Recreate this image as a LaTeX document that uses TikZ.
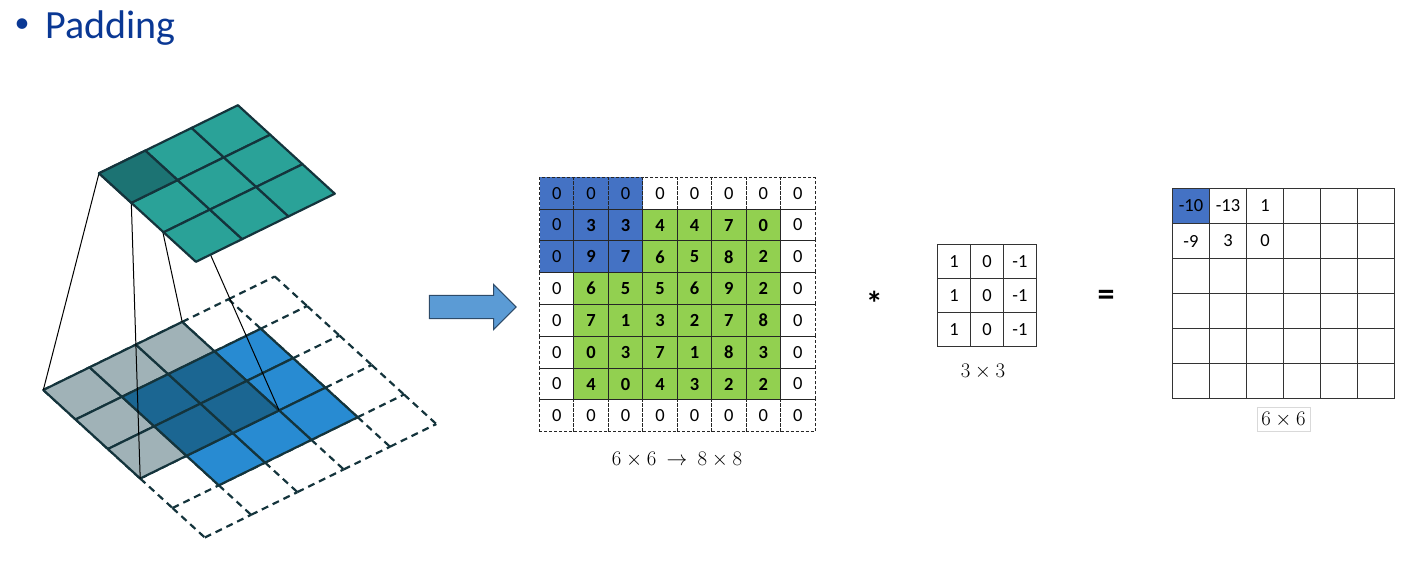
\documentclass[tikz,border=0pt]{standalone}
\usepackage{fontspec}
\setmainfont{Carlito}
\usetikzlibrary{shapes.arrows}

\definecolor{tituloazul}{RGB}{10,56,148}
\definecolor{azulpad}{RGB}{68,114,196}
\definecolor{verdepad}{RGB}{146,208,80}
\definecolor{tealc}{RGB}{42,162,152}
\definecolor{tealosc}{RGB}{28,115,115}
\definecolor{grisc}{RGB}{160,178,183}
\definecolor{azulc}{RGB}{40,139,210}
\definecolor{azulosc}{RGB}{27,102,146}
\definecolor{bordec}{RGB}{20,52,60}
\definecolor{flechaazul}{RGB}{91,155,213}
\definecolor{flechaborde}{RGB}{45,75,105}

\tikzset{
    celda/.style={draw=black!85, line width=0.9pt, minimum width=34.44pt, minimum height=31.8pt,
        inner sep=0pt, font=\fontsize{18.5}{19}\selectfont},
    celdapad/.style={celda, dash pattern=on 3pt off 2pt},
    celdadato/.style={celda, font=\fontsize{18.5}{19}\selectfont\bfseries},
    celdanuc/.style={draw=black!80, line width=1pt, minimum width=33pt, minimum height=34pt,
        inner sep=0pt, font=\fontsize{18.5}{19}\selectfont},
    celdasal/.style={draw=black!80, line width=1pt, minimum width=37pt, minimum height=35pt,
        inner sep=0pt, font=\fontsize{18.5}{19}\selectfont},
    etiqueta/.style={inner sep=0pt, font=\fontsize{20}{22}\selectfont},
    planoinf/.style={shift={(43.3,390)}, x={(46.3pt,22.7pt)}, y={(32.3pt,-29.5pt)}},
    planosup/.style={shift={(99,173.3)}, x={(46.3pt,22.7pt)}, y={(32.3pt,-29.5pt)}},
    cubo/.style={draw=bordec, line width=2.2pt, line join=round},
    discont/.style={cubo, dash pattern=on 7pt off 5pt},
    conector/.style={black, line width=1pt}
}

\begin{document}
\begin{tikzpicture}[x=1pt, y=-1pt]
    \useasboundingbox (0,0) rectangle (1413,566);

    % Titulo
    \node[text=tituloazul, font=\fontsize{30}{30}\selectfont, inner sep=0pt] (vineta) at (22,26) {•};
    \node[anchor=base west, text=tituloazul, font=\fontsize{40}{44}\selectfont, inner sep=0pt] (titulo) at (45,38.3) {Padding};

    % Plano inferior (entrada con padding)
    \begin{scope}[planoinf]
        \foreach \i in {0,...,4}
            \foreach \j in {0,...,5}
                \draw[discont] (\i,\j) -- ++(1,0);
        \foreach \i in {0,...,5}
            \foreach \j in {0,...,4}
                \draw[discont] (\i,\j) -- ++(0,1);
        \foreach \i/\j in {0/0,1/0,2/0,0/1,0/2}
            \draw[cubo, fill=grisc] (\i,\j) -- ++(1,0) -- ++(0,1) -- ++(-1,0) -- cycle;
        \foreach \i/\j in {3/1,3/2,3/3,1/3,2/3}
            \draw[cubo, fill=azulc] (\i,\j) -- ++(1,0) -- ++(0,1) -- ++(-1,0) -- cycle;
        \foreach \i/\j in {1/1,2/1,1/2,2/2}
            \draw[cubo, fill=azulosc] (\i,\j) -- ++(1,0) -- ++(0,1) -- ++(-1,0) -- cycle;
        \coordinate (b00) at (0,0);
        \coordinate (b30) at (3,0);
        \coordinate (b33) at (3,3);
        \coordinate (b03) at (0,3);
    \end{scope}

    % Plano superior (salida)
    \begin{scope}[planosup]
        \coordinate (t00) at (0,0);
        \coordinate (t10) at (1,0);
        \coordinate (t11) at (1,1);
        \coordinate (t01) at (0,1);
        % Lineas de proyeccion
        \draw[conector] (t00) -- (b00);
        \draw[conector] (t10) -- (b30);
        \draw[conector] (t11) -- (b33);
        \draw[conector] (t01) -- (b03);
        \foreach \i in {0,...,2}
            \foreach \j in {0,...,2}
                \draw[cubo, fill=tealc] (\i,\j) -- ++(1,0) -- ++(0,1) -- ++(-1,0) -- cycle;
        \draw[cubo, fill=tealosc] (0,0) -- (1,0) -- (1,1) -- (0,1) -- cycle;
    \end{scope}

    % Flecha
    \node[single arrow, draw=flechaborde, fill=flechaazul, line width=1pt,
        inner xsep=0pt, inner ysep=11.15pt, text height=0pt, text depth=0pt, text width=0pt,
        minimum height=86.7pt, single arrow head extend=11pt,
        single arrow tip angle=90] (flecha) at (467,307) {};

    % Matriz 8x8
    \fill[azulpad] (539.5,177.3) rectangle (642.8,272.7);
    \fill[verdepad] (573.9,209.1) rectangle (780.6,400.1);
    \fill[azulpad] (573.9,209.1) rectangle (642.8,272.7);
    \foreach \c in {0,...,7} {
        \node[celdapad] (p0\c) at ({556.7+34.44*\c},193.2) {0};
        \node[celdapad] (p7\c) at ({556.7+34.44*\c},415.8) {0};
    }
    \foreach \r in {1,...,6} {
        \node[celdapad] (p\r0) at (556.7,{193.2+31.8*\r}) {0};
        \node[celdapad] (p\r7) at (797.8,{193.2+31.8*\r}) {0};
    }
    \foreach \fila [count=\r] in {{3,3,4,4,7,0},{9,7,6,5,8,2},{6,5,5,6,9,2},{7,1,3,2,7,8},{0,3,7,1,8,3},{4,0,4,3,2,2}}
        \foreach \v [count=\c] in \fila
            \node[celdadato] (d\r\c) at ({556.7+34.44*\c},{193.2+31.8*\r}) {\v};
    \node[etiqueta] (dimpad) at (677,460) {$6\times 6\ \rightarrow\ 8\times 8$};

    % Operadores
    \node[inner sep=0pt, font=\fontsize{34}{34}\selectfont\bfseries] (prod) at (874.3,303) {*};
    \node[inner sep=0pt, font=\fontsize{34}{34}\selectfont\bfseries] (igual) at (1106,298.3) {=};

    % Nucleo 3x3
    \foreach \fila [count=\r] in {{1,0,-1},{1,0,-1},{1,0,-1}}
        \foreach \v [count=\c] in \fila
            \node[celdanuc] (k\r\c) at ({954+33*(\c-1)},{261.5+34*(\r-1)}) {\v};
    \node[etiqueta] (dimnuc) at (983,372) {$3\times 3$};

    % Salida 6x6
    \fill[azulpad] (1172.5,188.5) rectangle ++(37,35);
    \foreach \fila [count=\r] in {{-10,-13,1,{},{},{}},{-9,3,0,{},{},{}},{{},{},{},{},{},{}},{{},{},{},{},{},{}},{{},{},{},{},{},{}},{{},{},{},{},{},{}}}
        \foreach \v [count=\c] in \fila
            \node[celdasal] (o\r\c) at ({1191+37*(\c-1)},{206+35*(\r-1)}) {\v};
    \node[etiqueta, draw=black!15, line width=0.8pt, minimum width=53pt, minimum height=24.7pt] (dimsal) at (1283.5,419.3) {$6\times 6$};
\end{tikzpicture}
\end{document}
